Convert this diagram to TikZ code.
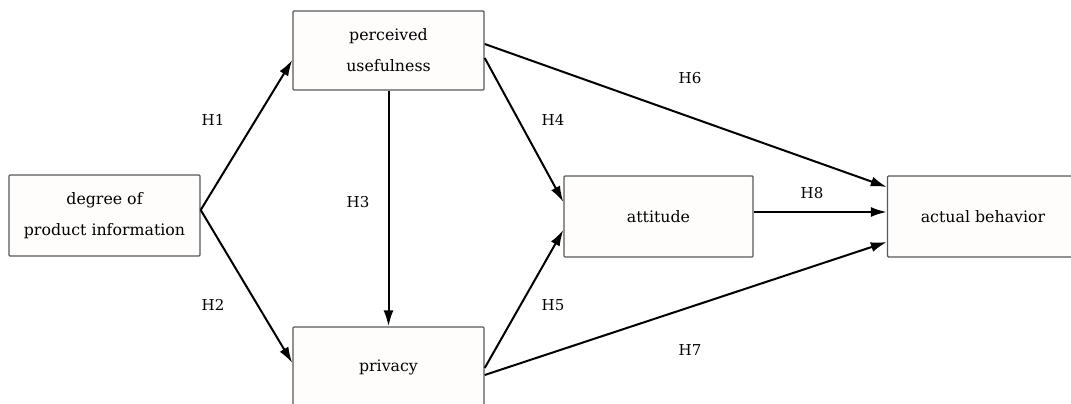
\documentclass[tikz,border=0pt]{standalone}
\usepackage{fontspec}
\setmainfont{DejaVu Serif}
\usetikzlibrary{
	calc,
	arrows.meta,
}
\tikzset{
	factor/.style={draw=black!65, fill=red!1, line width=1.4pt, rounded corners=1pt,
		minimum width=191pt, minimum height=80pt, inner sep=0pt, align=center,
		text=black, font=\fontsize{15.8}{31}\selectfont},
	hyp/.style={-{Latex[length=16pt,width=10pt]}, line width=2pt},
	hlabel/.style={text=black, font=\fontsize{15}{17}\selectfont},
}

\begin{document}
\begin{tikzpicture}[x=1pt,y=1pt]
\clip (0,0) rectangle (1071,404);
% boxes
\node[factor, minimum height=81pt] (degree) at (104.5,188.5) {degree of\\product information};
\node[factor, minimum height=79pt] (perceived) at (388.5,353.5) {perceived\\usefulness};
\node[factor] (privacy) at (388.5,37) {privacy};
\node[factor, minimum width=189pt, minimum height=81pt] (attitude) at (658.5,187.5) {attitude};
\node[factor, minimum height=81pt] (actual) at (983,187.5) {actual behavior};
% hypotheses
\draw[hyp] ($(degree.east)+(0,5.5)$) -- ($(perceived.west)+(0,-9.5)$);
\draw[hyp] ($(degree.east)+(0,5.5)$) -- ($(privacy.west)+(0,4)$);
\draw[hyp] (perceived.south) -- (privacy.north);
\draw[hyp] ($(perceived.east)+(0,-7.5)$) -- ($(attitude.west)+(0,14.5)$);
\draw[hyp] ($(privacy.east)+(0,-1)$) -- ($(attitude.west)+(0,-13.5)$);
\draw[hyp] ($(perceived.east)+(0,6.5)$) -- ($(actual.west)+(0,29.5)$);
\draw[hyp] ($(privacy.east)+(0,-8)$) -- ($(actual.west)+(0,-25.5)$);
\draw[hyp] ($(attitude.east)+(0,4.5)$) -- ($(actual.west)+(0,4.5)$);
% labels
\node[hlabel] (h1) at (213,284) {H1};
\node[hlabel] (h2) at (213,99) {H2};
\node[hlabel] (h3) at (358,202) {H3};
\node[hlabel] (h4) at (553,284) {H4};
\node[hlabel] (h5) at (553,99) {H5};
\node[hlabel] (h6) at (690,326) {H6};
\node[hlabel] (h7) at (690,54) {H7};
\node[hlabel] (h8) at (812,211) {H8};
\end{tikzpicture}
\end{document}
